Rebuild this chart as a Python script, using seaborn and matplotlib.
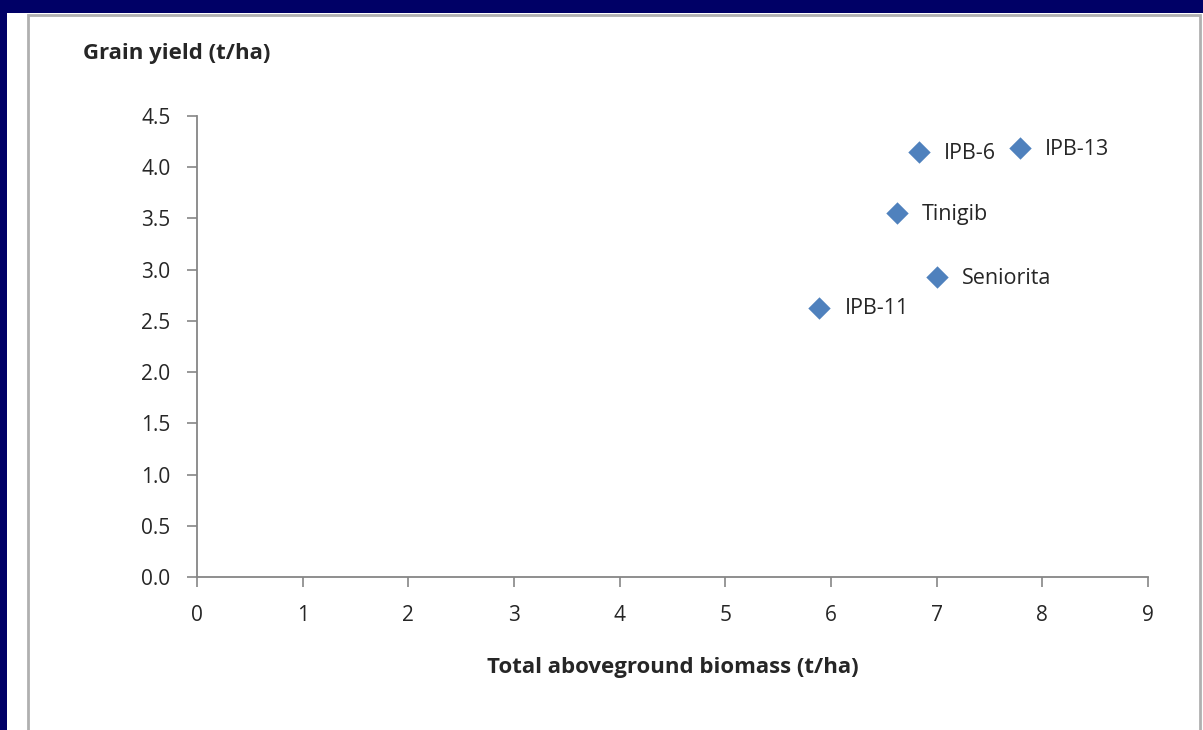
import matplotlib
matplotlib.use("Agg")
import matplotlib.pyplot as plt
import seaborn as sns
import pandas as pd
from matplotlib.patches import Rectangle

varieties = ["IPB-6", "IPB-13", "Tinigib", "Seniorita", "IPB-11"]
biomass = [6.83, 7.79, 6.62, 7.00, 5.89]
grain_yield = [4.15, 4.19, 3.55, 2.93, 2.63]
x_ticks = [0, 1, 2, 3, 4, 5, 6, 7, 8, 9]
y_ticks = [0.0, 0.5, 1.0, 1.5, 2.0, 2.5, 3.0, 3.5, 4.0, 4.5]

df = pd.DataFrame({"variety": varieties, "biomass": biomass, "yield": grain_yield})

sns.set_theme(style="white")
plt.rcParams["font.family"] = ["Open Sans", "DejaVu Sans"]

W, H = 1203, 730
fig = plt.figure(figsize=(W / 100, H / 100), dpi=100)
fig.patch.set_facecolor("#000066")
# white slide panel
fig.patches.append(Rectangle((7 / W, 0), (W - 7) / W, (H - 13) / H,
                             transform=fig.transFigure, facecolor="white",
                             edgecolor="none", zorder=0))
# grey chart border
fig.patches.append(Rectangle((28 / W, -0.01), (1200 - 28) / W, (H - 15) / H + 0.01,
                             transform=fig.transFigure, facecolor="none",
                             edgecolor="#b0b0b0", linewidth=2.0, zorder=1))

ax = fig.add_axes([197 / W, (H - 577) / H, (1148 - 197) / W, (577 - 116) / H])
ax.set_zorder(5)
ax.set_facecolor("none")

sns.scatterplot(data=df, x="biomass", y="yield", marker="D", s=130,
                color="#4F81BD", edgecolor="#4F81BD", linewidth=0, ax=ax, zorder=3)

for v, xv, yv in zip(varieties, biomass, grain_yield):
    ax.annotate(v, (xv, yv), xytext=(18, -1), textcoords="offset points",
                ha="left", va="center", fontsize=15.5, color="#262626")

ax.set_xlim(0, 9)
ax.set_ylim(0, 4.5)
ax.set_xticks(x_ticks)
ax.set_yticks(y_ticks)
ax.set_xticklabels([str(t) for t in x_ticks])
ax.set_yticklabels([f"{t:.1f}" for t in y_ticks])

for s in ["top", "right"]:
    ax.spines[s].set_visible(False)
for s in ["left", "bottom"]:
    ax.spines[s].set_color("#868686")
    ax.spines[s].set_linewidth(1.3)

ax.tick_params(axis="both", which="major", direction="out", length=7, width=1.2,
               color="#868686", labelsize=15, labelcolor="#262626",
               left=True, bottom=True)
ax.tick_params(axis="x", pad=13)
ax.tick_params(axis="y", pad=12)
ax.grid(False)

ax.set_xlabel("")
ax.set_ylabel("")
fig.text(673 / W, 1 - 667 / H, "Total aboveground biomass (t/ha)", ha="center",
         va="center", fontsize=16, fontweight="bold", color="#262626")
fig.text(83 / W, 1 - 53 / H, "Grain yield (t/ha)", ha="left", va="center",
         fontsize=16, fontweight="bold", color="#262626")

fig.savefig("out.png", dpi=100, facecolor=fig.get_facecolor())
